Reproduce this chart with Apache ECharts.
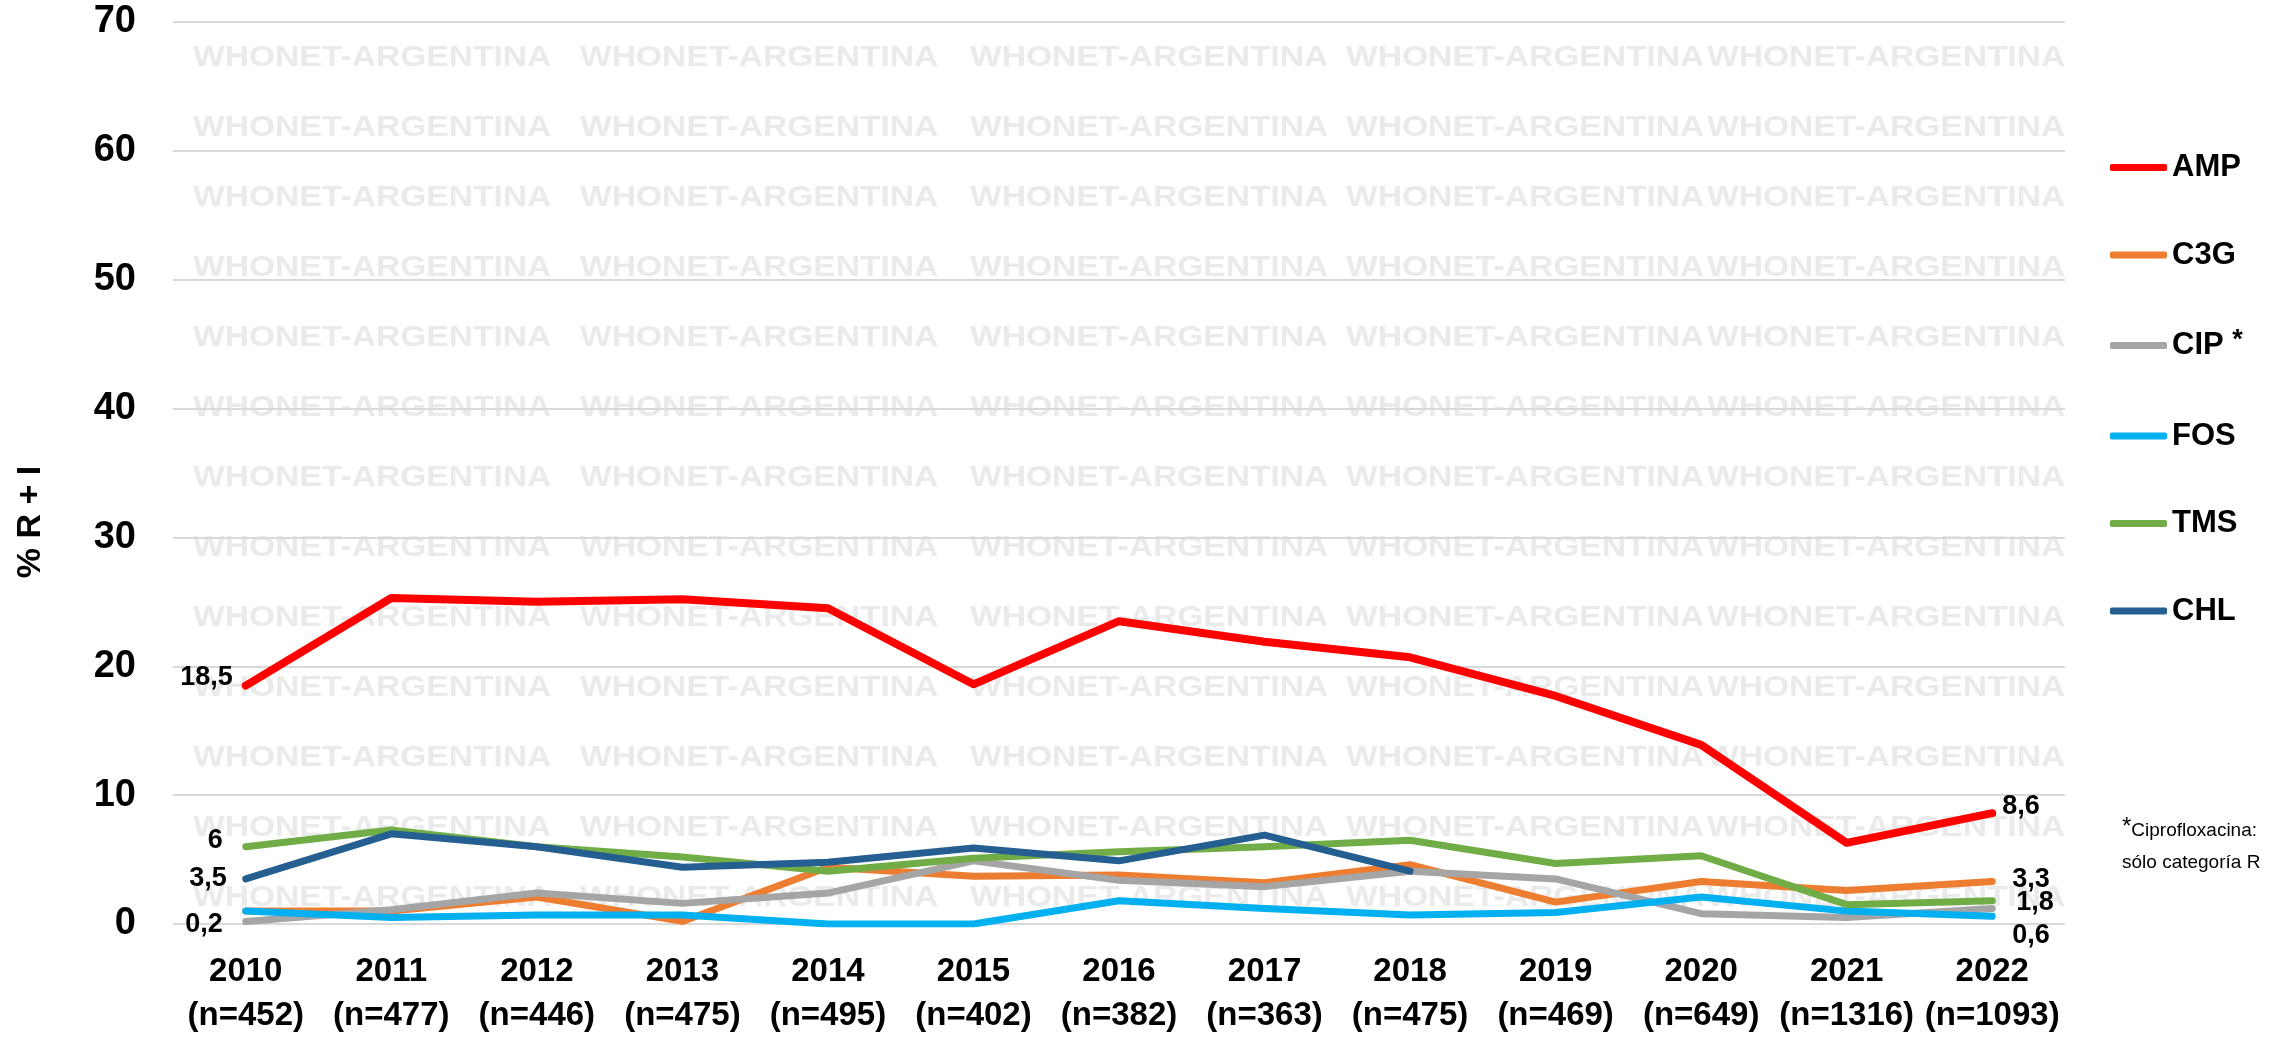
<!DOCTYPE html>
<html>
<head>
<meta charset="utf-8">
<script src="https://cdn.jsdelivr.net/npm/echarts@6/dist/echarts.min.js"></script>
<style>
  html, body { margin: 0; padding: 0; background: #fff; }
  #main { width: 2274px; height: 1039px; }
</style>
</head>
<body>
<div id="main"></div>
<script>
// años y cantidad de aislamientos
var years = ['2010','2011','2012','2013','2014','2015','2016','2017','2018','2019','2020','2021','2022'];
var nIsol = [452, 477, 446, 475, 495, 402, 382, 363, 475, 469, 649, 1316, 1093];

// % R + I por antibiótico
var amp = [18.5, 25.3, 25.0, 25.2, 24.5, 18.6, 23.5, 21.9, 20.7, 17.7, 13.9, 6.3, 8.6];
var c3g = [1.0, 1.0, 2.1, 0.2, 4.4, 3.7, 3.8, 3.2, 4.6, 1.7, 3.3, 2.6, 3.3];
var cip = [0.2, 1.1, 2.4, 1.6, 2.4, 4.9, 3.4, 2.9, 4.1, 3.5, 0.8, 0.5, 1.2];
var fos = [1.0, 0.5, 0.7, 0.7, 0.0, 0.0, 1.8, 1.2, 0.7, 0.9, 2.1, 1.0, 0.6];
var tms = [6.0, 7.3, 6.0, 5.2, 4.1, 5.1, 5.6, 6.0, 6.5, 4.7, 5.3, 1.5, 1.8];
var chl = [3.5, 7.0, 6.0, 4.4, 4.8, 5.9, 4.9, 6.9, 4.1, null, null, null, null];

var legendNames = ['AMP', 'C3G', 'CIP', 'FOS', 'TMS', 'CHL'];
var yTicks = [0, 70, 10]; // min, max, interval

var fontFam = "'Liberation Sans', Arial, sans-serif";

function fmt(v) { return String(v).replace('.', ','); }

// etiquetas sólo en el primer / último punto (símbolo invisible para que se dibuje la etiqueta)
function withLabels(vals, first, last) {
  return vals.map(function (v, i) {
    var cfg = null;
    if (i === 0 && first) cfg = { position: 'left', d: first };
    if (i === vals.length - 1 && last) cfg = { position: 'right', d: last };
    if (!cfg) return v;
    return {
      value: v,
      symbol: 'circle',
      symbolSize: 0.1,
      label: { show: true, position: cfg.position, distance: cfg.d[0], offset: [0, cfg.d[1]] }
    };
  });
}

function mkSeries(name, color, vals, first, last, w) {
  return {
    name: name,
    type: 'line',
    data: withLabels(vals, first, last),
    symbol: 'none',
    connectNulls: false,
    lineStyle: { color: color, width: w || 7, cap: 'round', join: 'round' },
    itemStyle: { color: color },
    label: {
      show: false,
      formatter: function (p) { return fmt(p.value); },
      color: '#000', fontSize: 27, fontWeight: 'bold', fontFamily: fontFam
    },
    emphasis: { disabled: true }
  };
}

// marca de agua
var wmCols = [193, 580, 970, 1346, 1707];
var watermark = [];
for (var r = 0; r < 13; r++) {
  for (var c = 0; c < wmCols.length; c++) {
    watermark.push({
      type: 'text', x: wmCols[c], y: 58 + r * 70, z: -10, scaleX: 1.12,
      silent: true,
      style: { text: 'WHONET-ARGENTINA', fill: '#EAEAEA', fontSize: 30, fontWeight: 'bold',
               fontFamily: fontFam, verticalAlign: 'middle', align: 'left' }
    });
  }
}

var chart = echarts.init(document.getElementById('main'));
var option = {
  backgroundColor: '#fff',
  animation: false,
  grid: { left: 173, right: 209, top: 22, bottom: 115 },
  xAxis: {
    type: 'category',
    data: years,
    boundaryGap: true,
    axisLine: { show: false },
    axisTick: { show: false },
    axisLabel: {
      interval: 0,
      margin: 26,
      color: '#000',
      fontSize: 33,
      fontWeight: 'bold',
      fontFamily: fontFam,
      lineHeight: 44,
      formatter: function (v, i) { return v + '\n(n=' + nIsol[i] + ')'; }
    }
  },
  yAxis: {
    type: 'value',
    min: yTicks[0], max: yTicks[1], interval: yTicks[2],
    axisLine: { show: false },
    axisTick: { show: false },
    splitLine: { lineStyle: { color: '#D9D9D9', width: 2 } },
    axisLabel: { margin: 37, color: '#000', fontSize: 38, fontWeight: 'bold', fontFamily: fontFam }
  },
  legend: {
    orient: 'vertical',
    left: 2105,
    top: 147,
    itemWidth: 57,
    itemHeight: 7,
    itemGap: 56.5,
    data: legendNames.map(function (n) { return { name: n, icon: 'roundRect' }; }),
    formatter: function (n) { return n === 'CIP' ? 'CIP {s|*}' : n; },
    textStyle: {
      color: '#000', fontSize: 31, fontWeight: 'bold', fontFamily: fontFam, lineHeight: 30,
      rich: { s: { fontSize: 27, fontWeight: 'bold', fontFamily: fontFam, lineHeight: 30, padding: [0, 0, 10, 0] } }
    }
  },
  series: [
    mkSeries('AMP', '#FF0000', amp, [13, -8], [10, -7], 8),
    mkSeries('C3G', '#ED7D31', c3g, null, [20, -2]),
    mkSeries('CIP', '#A5A5A5', cip, [23, 3], null),
    mkSeries('FOS', '#00B0F0', fos, null, [20, 19]),
    mkSeries('TMS', '#70AD47', tms, [23, -6], [24, 2]),
    mkSeries('CHL', '#255E91', chl, [19, 0], null)
  ],
  graphic: watermark.concat([
    {
      type: 'text', x: 31, y: 522, rotation: Math.PI / 2, z: 10,
      style: { text: '% R + I', fill: '#000', fontSize: 34, fontWeight: 'bold', fontFamily: fontFam,
               align: 'center', verticalAlign: 'middle' }
    },
    {
      type: 'text', x: 2122, y: 815, z: 10,
      style: {
        text: '{a|*}Ciprofloxacina:\nsólo categoría R',
        fill: '#000', fontSize: 19, fontFamily: fontFam, lineHeight: 32,
        rich: { a: { fontSize: 24, fontFamily: fontFam, verticalAlign: 'top', lineHeight: 32 } }
      }
    }
  ])
};
chart.setOption(option);
</script>
</body>
</html>
